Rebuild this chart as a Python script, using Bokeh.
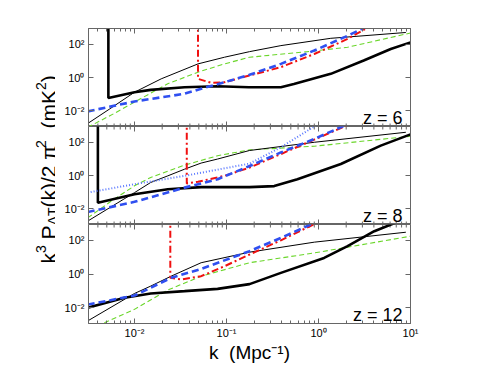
import numpy as np
from bokeh.plotting import figure
from bokeh.layouts import column, row
from bokeh.models import LogAxis, FixedTicker, Label, Range1d
from bokeh.embed import file_html
from bokeh.resources import INLINE

# ---------------- ticks / labels ----------------
x_major = [0.01, 0.1, 1.0, 10.0]
x_minor = [0.004, 0.005, 0.006, 0.007, 0.008, 0.009,
           0.02, 0.03, 0.04, 0.05, 0.06, 0.07, 0.08, 0.09,
           0.2, 0.3, 0.4, 0.5, 0.6, 0.7, 0.8, 0.9,
           2.0, 3.0, 4.0, 5.0, 6.0, 7.0, 8.0, 9.0]
y_major = [0.01, 1.0, 100.0]
x_tick_text = ["10⁻²", "10⁻¹", "10⁰", "10¹"]
y_tick_text = ["10⁻²", "10⁰", "10²"]
redshifts = ["z = 6", "z = 8", "z = 12"]
x_title = "k\u00a0\u00a0(Mpc⁻¹)"

# ---------------- data: z = 6 ----------------
z6_thick_k = [0.0052, 0.0052, 0.010, 0.015, 0.035, 0.080, 0.175, 0.39, 0.54, 1.36, 3.1, 6.1, 10.0]
z6_thick_P = [3000, 0.058, 0.13, 0.18, 0.26, 0.30, 0.26, 0.26, 0.40, 1.66, 10.5, 52, 130]
z6_thin_k = [0.0031, 0.0054, 0.010, 0.0195, 0.049, 0.095, 0.178, 0.39, 1.36, 8.9]
z6_thin_P = [0.0017, 0.013, 0.13, 0.83, 6.6, 16.6, 36, 83, 229, 513]
z6_green_k = [0.0031, 0.006, 0.010, 0.023, 0.049, 0.095, 0.178, 0.76, 2.07, 10.0]
z6_green_P = [0.0010, 0.0068, 0.033, 0.42, 2.1, 6.6, 16.6, 36, 66, 480]
z6_blue_k = [0.0031, 0.010, 0.035, 0.053, 0.095, 0.178, 0.39, 0.90, 2.07, 3.14]
z6_blue_P = [0.0091, 0.036, 0.105, 0.21, 0.52, 1.45, 6.6, 42, 324, 1000]
z6_red_k = [0.049, 0.049, 0.068, 0.095, 0.178, 0.39, 0.90, 2.07, 3.4]
z6_red_P = [3000, 0.83, 0.48, 0.52, 1.32, 4.2, 26, 209, 1000]

# ---------------- data: z = 8 ----------------
z8_thick_k = [0.004, 0.004, 0.010, 0.023, 0.053, 0.178, 0.33, 0.59, 1.75, 4.75, 10.0]
z8_thick_P = [3000, 0.023, 0.074, 0.148, 0.20, 0.20, 0.23, 0.60, 4.9, 63, 300]
z8_thin_k = [0.0031, 0.0066, 0.010, 0.015, 0.023, 0.035, 0.053, 0.080, 0.178, 0.90, 8.9]
z8_thin_P = [0.0018, 0.023, 0.093, 0.38, 0.95, 2.4, 5.6, 9.8, 32, 100, 400]
z8_green_k = [0.0031, 0.0056, 0.010, 0.015, 0.035, 0.080, 0.178, 0.90, 10.0]
z8_green_P = [0.0028, 0.029, 0.24, 0.76, 4.2, 15.5, 35, 58, 230]
z8_dot_k = [0.0031, 0.010, 0.035, 0.178, 0.39, 0.93]
z8_dot_P = [0.093, 0.30, 0.95, 5.2, 50, 1000]
z8_blue_k = [0.0031, 0.010, 0.035, 0.080, 0.178, 0.39, 0.90, 1.9]
z8_blue_P = [0.0063, 0.026, 0.186, 0.6, 3.7, 24.5, 158, 1000]
z8_red_k = [0.037, 0.037, 0.049, 0.095, 0.178, 0.39, 0.90, 2.0]
z8_red_P = [3000, 0.33, 0.42, 0.95, 3.0, 19.5, 145, 1000]

# ---------------- data: z = 12 ----------------
z12_thick_k = [0.0031, 0.0078, 0.015, 0.035, 0.080, 0.178, 0.39, 1.15, 2.07, 4.04, 7.2]
z12_thick_P = [0.0098, 0.038, 0.069, 0.095, 0.13, 0.25, 1.17, 9.1, 46, 355, 1260]
z12_thin_k = [0.0031, 0.010, 0.015, 0.025, 0.053, 0.178, 0.90, 8.9]
z12_thin_P = [0.0016, 0.069, 0.19, 0.74, 4.7, 20, 79, 309]
z12_green_k = [0.0047, 0.010, 0.023, 0.053, 0.178, 0.90, 10.0]
z12_green_P = [0.00126, 0.0078, 0.11, 0.74, 4.7, 18, 178]
z12_blue_k = [0.0031, 0.010, 0.025, 0.053, 0.178, 0.39, 0.86]
z12_blue_P = [0.015, 0.052, 0.59, 2.0, 23, 141, 1000]
z12_red_k = [0.0245, 0.0245, 0.032, 0.053, 0.095, 0.178, 0.39, 0.92]
z12_red_P = [3000, 0.59, 0.47, 0.74, 2.9, 14.5, 102, 1000]

# ---------------- styling ----------------
FONT = "Liberation Sans"
FRAME = "#666666"
X_RANGE = (10 ** -2.5, 10.0)
Y_RANGE = (10 ** -2.95, 10 ** 2.95)
LEFT_W = 55          # width of the strip holding the rotated y title
PANEL_LEFT = 33      # border left of each panel frame (frame starts at x=88)
PANEL_RIGHT = 20
STYLES = {
    "thick": dict(line_color="black", line_width=2.6),
    "thin": dict(line_color="black", line_width=1.0),
    "green": dict(line_color="#6ad62a", line_width=1.1, line_dash="5 3"),
    "blue": dict(line_color="#2f4ff0", line_width=2.6, line_dash="7 4"),
    "red": dict(line_color="#f01010", line_width=2.0, line_dash="7 3 2 3"),
    "dot": dict(line_color="#5a78ff", line_width=2.0, line_dash="1 2"),
}
MAJOR_LEN, MINOR_LEN = 5, 3


def style_axis(ax, ticks, minor, labels, show_labels):
    ax.ticker = FixedTicker(ticks=ticks, minor_ticks=minor)
    ax.axis_line_color = FRAME
    ax.major_tick_line_color = FRAME
    ax.minor_tick_line_color = FRAME
    ax.major_tick_in = MAJOR_LEN
    ax.major_tick_out = 0
    ax.minor_tick_in = MINOR_LEN
    ax.minor_tick_out = 0
    ax.major_label_overrides = {t: s for t, s in zip(ticks, labels)}
    ax.major_label_text_font = FONT
    if show_labels:
        ax.major_label_text_font_size = "11px"
        ax.major_label_text_color = "black"
        ax.major_label_standoff = 4
    else:
        ax.major_label_text_font_size = "1px"
        ax.major_label_text_alpha = 0
        ax.major_label_standoff = 0


def edge_ticks(p, frame_h, edge):
    """inward x-ticks on an edge shared with a neighbouring panel"""
    dec_per_px = (np.log10(Y_RANGE[1]) - np.log10(Y_RANGE[0])) / frame_h
    for ticks, length in ((x_major, MAJOR_LEN), (x_minor, MINOR_LEN)):
        fac = 10 ** (length * dec_per_px)
        if edge == "bottom":
            y0, y1 = Y_RANGE[0], Y_RANGE[0] * fac
        else:
            y0, y1 = Y_RANGE[1], Y_RANGE[1] / fac
        p.segment(x0=ticks, x1=ticks, y0=[y0] * len(ticks), y1=[y1] * len(ticks),
                  line_color=FRAME, line_width=1)


def make_panel(frame_h, top, bottom, x_loc):
    p = figure(x_axis_type="log", y_axis_type="log",
               x_range=Range1d(*X_RANGE), y_range=Range1d(*Y_RANGE),
               frame_width=322, frame_height=frame_h,
               min_border_left=PANEL_LEFT, min_border_right=PANEL_RIGHT,
               min_border_top=top, min_border_bottom=bottom,
               x_axis_location=x_loc,
               output_backend="svg", toolbar_location=None)
    p.grid.visible = False
    p.outline_line_color = FRAME
    p.add_layout(LogAxis(), "right")
    for ax in p.below:
        style_axis(ax, x_major, x_minor, x_tick_text, True)
    for ax in p.above:
        style_axis(ax, x_major, x_minor, x_tick_text, False)
    for ax in p.left:
        style_axis(ax, y_major, [], y_tick_text, True)
    for ax in p.right:
        style_axis(ax, y_major, [], y_tick_text, False)
    return p


H1, H2, H3 = 98, 98, 99
p1 = make_panel(H1, 28, 0, "above")
p2 = make_panel(H2, 0, 0, None)
p3 = make_panel(H3, 0, 0, "below")
edge_ticks(p1, H1, "bottom")
edge_ticks(p2, H2, "top")
edge_ticks(p2, H2, "bottom")
edge_ticks(p3, H3, "top")

# x title as the bottom axis label (centred under the frame)
p3.xaxis.axis_label = x_title
p3.xaxis.axis_label_text_font = FONT
p3.xaxis.axis_label_text_font_size = "19px"
p3.xaxis.axis_label_text_font_style = "normal"
p3.xaxis.axis_label_text_color = "black"
p3.xaxis.axis_label_standoff = 0
p3.xaxis.major_label_standoff = 3

panels = [
    (p1, [("green", z6_green_k, z6_green_P), ("thin", z6_thin_k, z6_thin_P),
          ("thick", z6_thick_k, z6_thick_P), ("red", z6_red_k, z6_red_P),
          ("blue", z6_blue_k, z6_blue_P)]),
    (p2, [("green", z8_green_k, z8_green_P), ("thin", z8_thin_k, z8_thin_P),
          ("thick", z8_thick_k, z8_thick_P), ("dot", z8_dot_k, z8_dot_P),
          ("red", z8_red_k, z8_red_P), ("blue", z8_blue_k, z8_blue_P)]),
    (p3, [("green", z12_green_k, z12_green_P), ("thin", z12_thin_k, z12_thin_P),
          ("thick", z12_thick_k, z12_thick_P), ("red", z12_red_k, z12_red_P),
          ("blue", z12_blue_k, z12_blue_P)]),
]
for (p, series), ztxt in zip(panels, redshifts):
    for style, k, P in series:
        p.line(k, P, **STYLES[style])
    p.add_layout(Label(x=314, y=9, x_units="screen", y_units="screen", text=ztxt,
                       text_align="right", text_baseline="alphabetic",
                       text_font=FONT, text_font_size="18px", text_color="black"))

# ---------------- y title (rotated, built from pieces for sub/superscripts) ----------------
W = {'k': 0.5, '3': 0.556, ' ': 0.278, 'P': 0.667, 'Δ': 0.668, 'T': 0.611, '(': 0.333,
     ')': 0.333, '/': 0.278, '2': 0.556, 'π': 0.556, 'm': 0.833, 'K': 0.667}


def width(s, size):
    return sum(W.get(ch, 0.55) for ch in s) * size


ylab = figure(width=LEFT_W, height=363, x_range=Range1d(0, 1), y_range=Range1d(0, 1),
              min_border=0, x_axis_location=None, y_axis_location=None,
              output_backend="svg", toolbar_location=None)
ylab.grid.visible = False
ylab.outline_line_color = None
MAIN, SMALL = 21, 14
ylabel_pieces = [
    ("k", MAIN, 0, 0),
    ("3", SMALL, -8, 0),
    ("P", MAIN, 0, 0.278 * MAIN),
    ("ΔT", SMALL, 4, 0),
    ("(k)/2 π", MAIN, 0, 0),
    ("2", SMALL, -8, 0),
    ("(mK", MAIN, 0, 0.556 * MAIN),
    ("2", SMALL, -8, 0),
    (")", MAIN, 0, 0),
]
pos = 100
for txt, size, shift, gap in ylabel_pieces:
    pos += gap
    ylab.add_layout(Label(text=txt, x=48 + shift, y=pos, x_units="screen", y_units="screen",
                          angle=np.pi / 2, text_align="left", text_baseline="alphabetic",
                          text_font=FONT, text_font_size=f"{size}px", text_color="black"))
    pos += width(txt, size)

layout = row(ylab, column(p1, p2, p3, spacing=0), spacing=0)
open("out.html", "w").write(file_html(layout, INLINE))
